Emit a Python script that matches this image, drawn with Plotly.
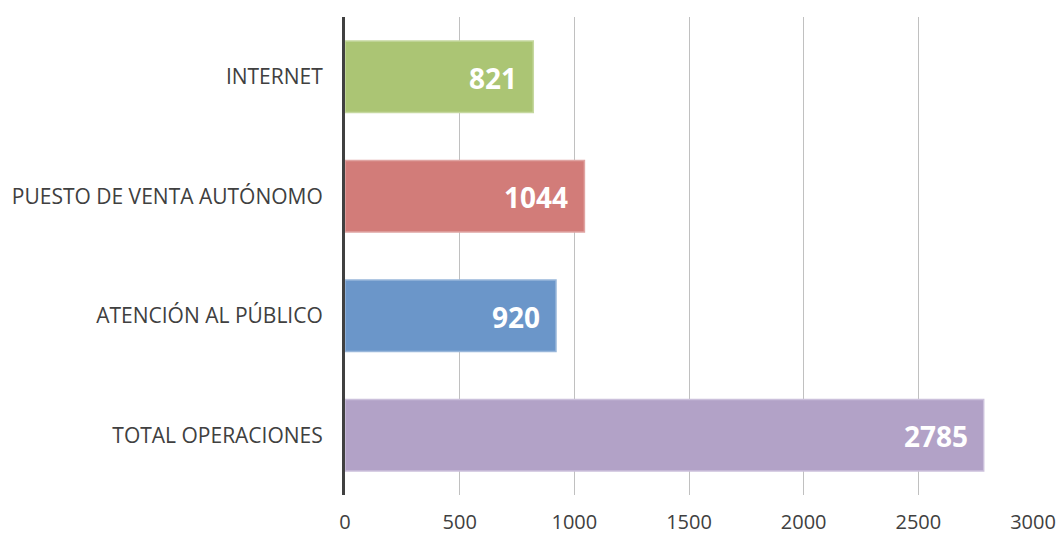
import plotly.graph_objects as go

# Operaciones por canal (de arriba abajo)
categories = ["INTERNET", "PUESTO DE VENTA AUTÓNOMO", "ATENCIÓN AL PÚBLICO", "TOTAL OPERACIONES"]
values = [821, 1044, 920, 2785]
bar_colors = ["#ABC574", "#D27C79", "#6B96C9", "#B2A2C7"]
line_colors = ["#C5D89F", "#E0A4A2", "#98B6DA", "#CBC0DB"]
x_ticks = [0, 500, 1000, 1500, 2000, 2500, 3000]

fig = go.Figure()
fig.add_trace(go.Bar(
    y=categories,
    x=values,
    orientation="h",
    width=0.6,
    marker=dict(color=bar_colors, line=dict(color=line_colors, width=1.5)),
    hoverinfo="x+y",
))

# Etiquetas de valor dentro de cada barra, alineadas al extremo
for cat, val in zip(categories, values):
    fig.add_annotation(
        x=val, y=cat, text=f"<b>{val}</b>", showarrow=False,
        xanchor="right", xshift=-14, yshift=-1,
        font=dict(family="Open Sans, sans-serif", size=28, color="white"),
    )

fig.update_layout(
    width=1059, height=536,
    margin=dict(l=345, r=26, t=17, b=41),
    paper_bgcolor="white", plot_bgcolor="white",
    showlegend=False,
    font=dict(family="Open Sans, sans-serif", color="#404040"),
    bargap=0.4,
)
fig.update_xaxes(
    range=[0, 3000], tickvals=x_ticks, ticktext=[str(t) for t in x_ticks],
    showgrid=True, gridcolor="#C0C0C0", gridwidth=1,
    zeroline=False, showline=False, ticks="",
    tickfont=dict(size=20, color="#404040"),
    ticklabelstandoff=13, automargin=False,
)
fig.update_yaxes(
    categoryorder="array", categoryarray=categories[::-1],
    showgrid=False, zeroline=False,
    showline=True, linecolor="#404040", linewidth=3,
    ticks="", tickfont=dict(size=21, color="#404040"),
    ticklabelstandoff=15, automargin=False,
)

fig.write_html("out.html")
